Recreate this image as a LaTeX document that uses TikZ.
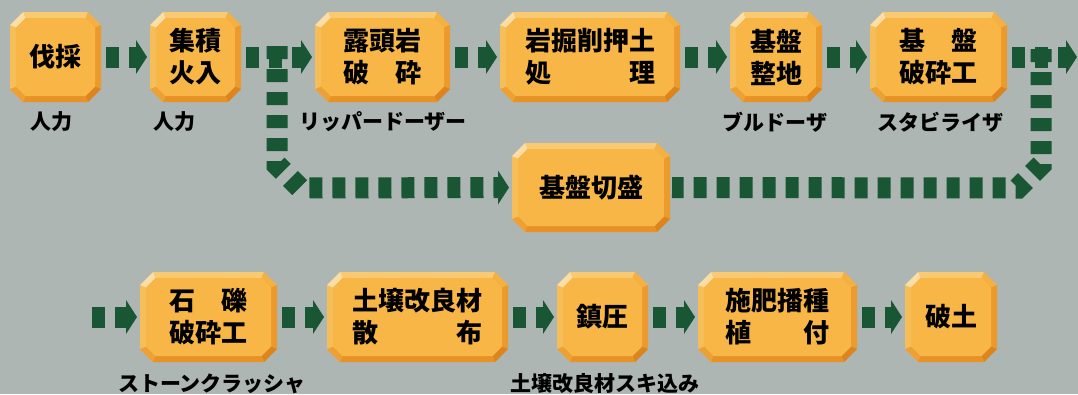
\documentclass[tikz,border=0pt]{standalone}
\usepackage{fontspec}
\newfontfamily\jp{Noto Sans CJK JP}
\usetikzlibrary{calc}
\pgfdeclarelayer{bgpaper}
\pgfdeclarelayer{bevels}
\pgfsetlayers{bgpaper,bevels,main}
\definecolor{bg}{RGB}{174,182,180}
\definecolor{grn}{RGB}{24,86,52}
\definecolor{face}{RGB}{247,182,70}
\definecolor{btop}{RGB}{250,202,115}
\definecolor{btl}{RGB}{252,222,165}
\definecolor{bleft}{RGB}{246,190,88}
\definecolor{btr}{RGB}{245,176,66}
\definecolor{bright}{RGB}{236,154,44}
\definecolor{bbr}{RGB}{222,132,28}
\definecolor{bbot}{RGB}{232,146,38}
\definecolor{bbl}{RGB}{238,160,50}
\newcommand\bevelbox[1]{%
  \coordinate (oA) at ($(#1.north west)+(13,0)$);
  \coordinate (oB) at ($(#1.north east)+(-13,0)$);
  \coordinate (oC) at ($(#1.north east)+(0,13)$);
  \coordinate (oD) at ($(#1.south east)+(0,-13)$);
  \coordinate (oE) at ($(#1.south east)+(-13,0)$);
  \coordinate (oF) at ($(#1.south west)+(13,0)$);
  \coordinate (oG) at ($(#1.south west)+(0,-13)$);
  \coordinate (oH) at ($(#1.north west)+(0,13)$);
  \coordinate (iA) at ($(#1.north west)+(15.5,6)$);
  \coordinate (iB) at ($(#1.north east)+(-15.5,6)$);
  \coordinate (iC) at ($(#1.north east)+(-6,15.5)$);
  \coordinate (iD) at ($(#1.south east)+(-6,-15.5)$);
  \coordinate (iE) at ($(#1.south east)+(-15.5,-6)$);
  \coordinate (iF) at ($(#1.south west)+(15.5,-6)$);
  \coordinate (iG) at ($(#1.south west)+(6,-15.5)$);
  \coordinate (iH) at ($(#1.north west)+(6,15.5)$);
  \begin{pgfonlayer}{bevels}
  \fill[btop] (oA) -- (oB) -- (iB) -- (iA) -- cycle;
  \fill[btr] (oB) -- (oC) -- (iC) -- (iB) -- cycle;
  \fill[bright] (oC) -- (oD) -- (iD) -- (iC) -- cycle;
  \fill[bbr] (oD) -- (oE) -- (iE) -- (iD) -- cycle;
  \fill[bbot] (oE) -- (oF) -- (iF) -- (iE) -- cycle;
  \fill[bbl] (oF) -- (oG) -- (iG) -- (iF) -- cycle;
  \fill[bleft] (oG) -- (oH) -- (iH) -- (iG) -- cycle;
  \fill[btl] (oH) -- (oA) -- (iA) -- (iH) -- cycle;
  \fill[face] (iA) -- (iB) -- (iC) -- (iD) -- (iE) -- (iF) -- (iG) -- (iH) -- cycle;
  \end{pgfonlayer}}
% arrowhead pointing right, tip 3pt before the given point
\newcommand\headat[1]{%
  \fill[grn] ($(#1)+(-14,-17)$) -- ($(#1)+(-3,0)$) -- ($(#1)+(-14,17)$) -- cycle;}
\begin{document}
\begin{tikzpicture}[x=1pt,y=-1pt,
  box/.style={inner sep=0pt, outer sep=0pt, align=center, minimum height=90pt,
    font=\jp\bfseries\fontsize{26}{32}\selectfont, text=black},
  lab/.style={font=\jp\bfseries\fontsize{21}{24}\selectfont, inner sep=0pt, text=black},
  flow/.style={draw=grn, line width=21pt, dash pattern=on 13pt off 10pt,
    shorten <=5pt, shorten >=13pt},
  flowplain/.style={draw=grn, line width=21pt, dash pattern=on 13pt off 10pt}]
\begin{pgfonlayer}{bgpaper}
\fill[bg] (0,0) rectangle (1078,394);
\end{pgfonlayer}
\useasboundingbox (0,0) rectangle (1078,394);
% row 1
\node[box, minimum width=91pt] (batsu) at (55.5,57) {伐採};
\node[box, minimum width=91pt] (shuseki) at (195.5,57) {集積\\火入};
\node[box, minimum width=135pt] (roto) at (382.5,57) {露頭岩\\破　砕};
\node[box, minimum width=180pt] (gankutsu) at (590,57) {岩掘削押土\\処　　　理};
\node[box, minimum width=92pt] (seichi) at (776,57) {基盤\\整地};
\node[box, minimum width=137pt] (hasai) at (938.5,57) {基　盤\\破砕工};
% row 2
\node[box, minimum width=158pt, minimum height=89pt] (kirimori) at (591,187.5) {基盤切盛};
% row 3
\node[box, minimum width=137pt] (sekireki) at (208.5,317) {石　礫\\破砕工};
\node[box, minimum width=181pt] (dojo) at (417.5,317) {土壌改良材\\散　　　布};
\node[box, minimum width=91pt] (chinatsu) at (602.5,317) {鎮圧};
\node[box, minimum width=159pt] (sehi) at (777.5,317) {施肥播種\\植　　付};
\node[box, minimum width=92pt] (hado) at (951,317) {破土};
\foreach \n in {batsu,shuseki,roto,gankutsu,seichi,hasai,kirimori,sekireki,dojo,chinatsu,sehi,hado}{\bevelbox{\n}}
% labels
\node[lab] (l1) at (51,122) {人力};
\node[lab] (l2) at (174,122) {人力};
\node[lab] (l3) at (383,122) {リッパードーザー};
\node[lab] (l5) at (775,122) {ブルドーザ};
\node[lab] (l6) at (940,122) {スタビライザ};
\node[lab] (l8) at (212,384) {ストーンクラッシャ};
\node[lab] (l10) at (605,384) {土壌改良材スキ込み};
% connectors
\draw[flow] (batsu.east) -- (shuseki.west); \headat{shuseki.west}
\draw[flow] (shuseki.east) -- (roto.west); \headat{roto.west}
\draw[flow] (roto.east) -- (gankutsu.west); \headat{gankutsu.west}
\draw[flow] (gankutsu.east) -- (seichi.west); \headat{seichi.west}
\draw[flow] (seichi.east) -- (hasai.west); \headat{hasai.west}
\coordinate (out1) at (1080,57);
\draw[flow] (hasai.east) -- (out1); \headat{out1}
\coordinate (j1) at (277,46);
\draw[flow, shorten <=0pt] (j1) -- ++(0,119) -- ++(23,23) -- (kirimori.west); \headat{kirimori.west}
\coordinate (j2) at (1041,49);
\draw[flowplain] (j2) -- ++(0,116) -- ++(-23,23) -- ([xshift=2pt]kirimori.east);
\coordinate (in3) at (92,317);
\draw[flow, shorten <=0pt] (in3) -- (sekireki.west); \headat{sekireki.west}
\draw[flow] (sekireki.east) -- (dojo.west); \headat{dojo.west}
\draw[flow] (dojo.east) -- (chinatsu.west); \headat{chinatsu.west}
\draw[flow] (chinatsu.east) -- (sehi.west); \headat{sehi.west}
\draw[flow] (sehi.east) -- (hado.west); \headat{hado.west}
\end{tikzpicture}
\end{document}
